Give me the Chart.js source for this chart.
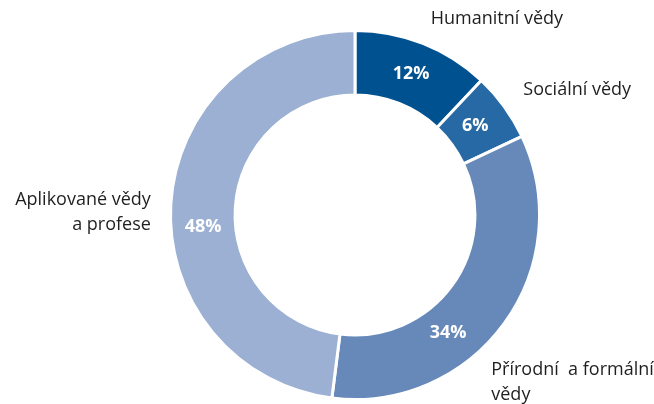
<!DOCTYPE html>
<html>
<head>
<meta charset="utf-8">
<script src="https://cdn.jsdelivr.net/npm/chart.js@4/dist/chart.umd.min.js"></script>
<style>
  html, body { margin: 0; padding: 0; background: #fff; }
  #wrap { width: 654px; height: 404px; position: relative; }
</style>
</head>
<body>
<div id="wrap"><canvas id="fieldChart"></canvas></div>
<script>
// Data
const categories = [
    ['Humanitní vědy'],
    ['Sociální vědy'],
    ['Přírodní  a formální', 'vědy'],
    ['Aplikované vědy', 'a profese']
];
const shares = [12, 6, 34, 48];

// Colours per slice
const sliceColors = ['#005190', '#2769a4', '#6689b9', '#9bb0d2'];

// Label placement relative to the slice (outer midpoint / centroid)
const nameLayout = [
    { dx: 74, dy: -25, align: 'center' },
    { dx: 19, dy: -17, align: 'left' },
    { dx: -13, dy: 46, align: 'left' },
    { dx: -20, dy: -4, align: 'right' }
];
const pctLayout = [
    { dx: 0, dy: 0 },
    { dx: -3, dy: 0 },
    { dx: -30, dy: 28 },
    { dx: 0, dy: 21 }
];

const sliceLabels = {
    id: 'sliceLabels',
    afterDatasetsDraw(chart) {
        const ctx = chart.ctx;
        const meta = chart.getDatasetMeta(0);
        ctx.save();
        ctx.textBaseline = 'middle';
        meta.data.forEach((arc, i) => {
            const p = arc.getProps(['x', 'y', 'startAngle', 'endAngle', 'innerRadius', 'outerRadius'], true);
            const mid = (p.startAngle + p.endAngle) / 2;

            // percentage inside ring
            const rMid = (p.innerRadius + p.outerRadius) / 2;
            ctx.fillStyle = '#ffffff';
            ctx.font = 'bold 18px "Open Sans", sans-serif';
            ctx.textAlign = 'center';
            ctx.fillText(shares[i] + '%',
                p.x + Math.cos(mid) * rMid + pctLayout[i].dx,
                p.y + Math.sin(mid) * rMid + pctLayout[i].dy);

            // category name outside
            const ox = p.x + Math.cos(mid) * p.outerRadius + nameLayout[i].dx;
            const oy = p.y + Math.sin(mid) * p.outerRadius + nameLayout[i].dy;
            ctx.fillStyle = '#1f1f1f';
            ctx.font = '18px "Open Sans", sans-serif';
            ctx.textAlign = nameLayout[i].align;
            categories[i].forEach((line, k) => {
                ctx.fillText(line, ox, oy + k * 25);
            });
        });
        ctx.restore();
    }
};

new Chart(document.getElementById('fieldChart'), {
    type: 'doughnut',
    data: {
        labels: categories.map(c => c.join(' ')),
        datasets: [{
            data: shares,
            backgroundColor: sliceColors,
            borderColor: '#ffffff',
            borderWidth: 3
        }]
    },
    options: {
        responsive: true,
        maintainAspectRatio: false,
        animation: false,
        cutout: '65%',
        layout: { padding: { top: 29, bottom: 3, left: 56, right: 0 } },
        plugins: {
            legend: { display: false },
            tooltip: { enabled: false }
        }
    },
    plugins: [sliceLabels]
});
</script>
</body>
</html>
